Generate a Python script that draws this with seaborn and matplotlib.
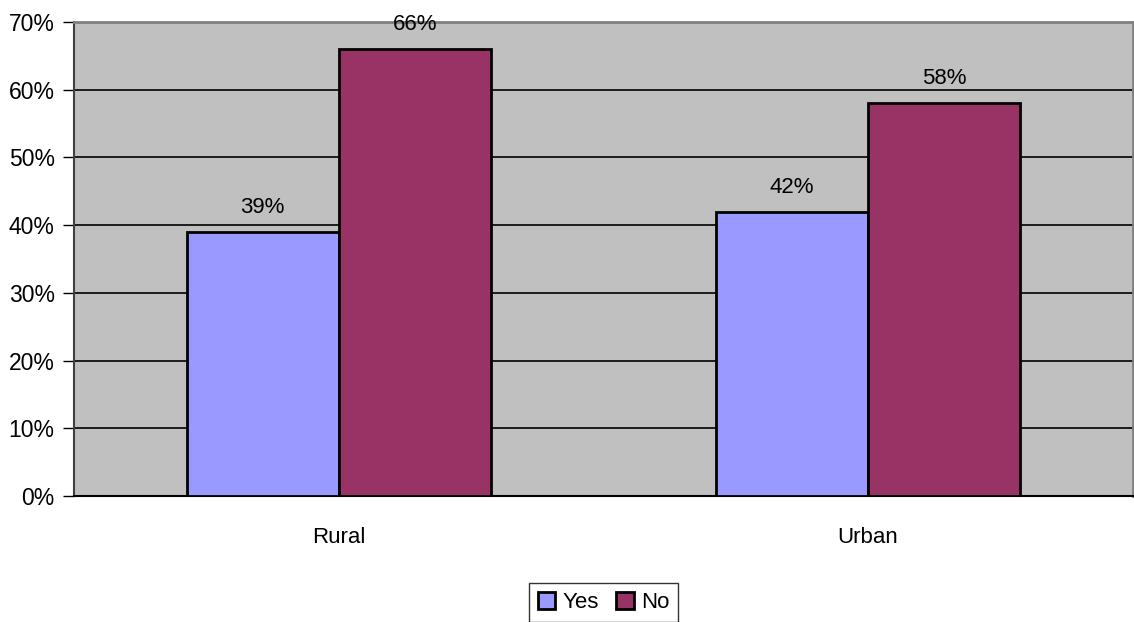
import pandas as pd
import seaborn as sns
import matplotlib.pyplot as plt
from matplotlib.ticker import MultipleLocator, FixedLocator

# Данные
areas = ['Rural', 'Urban']
yes_vals = [39, 42]
no_vals = [66, 58]
answers = ['Yes', 'No']

df = pd.DataFrame({
    'area': areas * 2,
    'answer': ['Yes'] * len(areas) + ['No'] * len(areas),
    'value': yes_vals + no_vals,
})

sns.set_style('white')
plt.rcParams['font.family'] = ['Liberation Sans', 'DejaVu Sans']
plt.rcParams['text.color'] = 'black'
plt.rcParams['xtick.color'] = 'black'
plt.rcParams['ytick.color'] = 'black'

fig = plt.figure(figsize=(11.34, 6.22), dpi=100)
ax = fig.add_axes([0.0653, 0.2026, 0.9335, 0.762])
ax.set_facecolor('#C0C0C0')

sns.barplot(data=df, x='area', y='value', hue='answer', hue_order=answers,
            palette={'Yes': '#9999FF', 'No': '#993366'}, width=0.574,
            edgecolor='black', linewidth=2, saturation=1, ax=ax, zorder=3)

# Подписи значений
for cont in ax.containers:
    ax.bar_label(cont, labels=[f'{v:.0f}%' for v in cont.datavalues],
                 padding=10, fontsize=16, color='black')

ax.set_ylim(0, 70)
ax.set_xlim(-0.5, 1.5)
ax.yaxis.set_major_locator(MultipleLocator(10))
ax.set_yticklabels([f'{int(t)}%' for t in ax.get_yticks()])
ax.yaxis.grid(True, color='black', linewidth=1.2, zorder=1)
ax.set_axisbelow(True)

ax.xaxis.set_minor_locator(FixedLocator([-0.5, 0.5, 1.5]))
ax.tick_params(axis='x', which='major', length=0, labelsize=16, pad=22)
ax.tick_params(axis='x', which='minor', length=8, width=1, direction='out', color='black')
ax.tick_params(axis='y', length=8, width=1, direction='out', labelsize=16.5, pad=6, left=True)

ax.set_xlabel('')
ax.set_ylabel('')

for side in ['top', 'right']:
    ax.spines[side].set_color('#808080')
    ax.spines[side].set_linewidth(2)
ax.spines['left'].set_color('#404040')
ax.spines['left'].set_linewidth(1.5)
ax.spines['bottom'].set_color('black')
ax.spines['bottom'].set_linewidth(1.5)

leg = ax.legend(loc='center', bbox_to_anchor=(0.5, -0.225), ncol=2,
                fontsize=16, frameon=True, fancybox=False, edgecolor='black',
                handlelength=0.8, handleheight=0.8, handletextpad=0.3,
                columnspacing=0.8, borderpad=0.4)
leg.get_frame().set_linewidth(1)
for t in leg.get_texts():
    t.set_color('black')

fig.savefig('out.png', dpi=100)
